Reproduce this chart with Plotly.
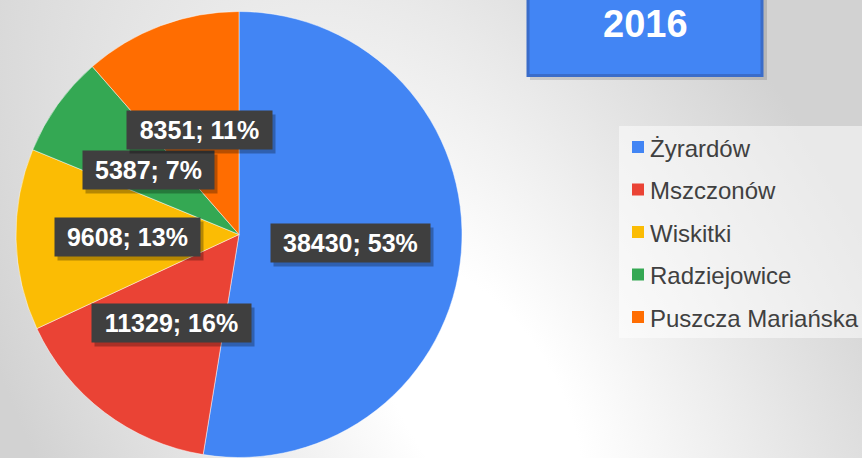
import math
import base64
import plotly.graph_objects as go

# ---- data ----
labels = ["Żyrardów", "Mszczonów", "Wiskitki", "Radziejowice", "Puszcza Mariańska"]
values = [38430, 11329, 9608, 5387, 8351]
percents = [53, 16, 13, 7, 11]
colors = ["#4285F4", "#EA4335", "#FBBC04", "#34A853", "#FF6D01"]
title_text = "2016"

W, H = 862, 458
FONT = "Liberation Sans, Arial, sans-serif"

# pie geometry (pixel space)
pie_left, pie_right = 16, 462
pie_top, pie_bottom = 11, H
dom_x = [pie_left / W, pie_right / W]
dom_y = [1 - pie_bottom / H, 1 - pie_top / H]
R = min(pie_right - pie_left, pie_bottom - pie_top) / 2
cx = (pie_left + pie_right) / 2
cy = (pie_top + pie_bottom) / 2


def px(x):
    return x / W


def py(y):
    return 1 - y / H


# background gradient (svg)
svg = f'''<svg xmlns="http://www.w3.org/2000/svg" width="{W}" height="{H}" viewBox="0 0 {W} {H}" preserveAspectRatio="none">
<defs><radialGradient id="g" gradientUnits="userSpaceOnUse" cx="0" cy="0" r="1"
 gradientTransform="translate(480 400) rotate(-121.5) scale(820 420)">
<stop offset="0" stop-color="#ffffff"/><stop offset="0.18" stop-color="#ffffff"/>
<stop offset="0.7" stop-color="#e2e2e2"/><stop offset="1" stop-color="#d2d2d2"/></radialGradient></defs>
<rect width="{W}" height="{H}" fill="url(#g)"/></svg>'''
bg_src = "data:image/svg+xml;base64," + base64.b64encode(svg.encode()).decode()

fig = go.Figure()
fig.add_trace(go.Pie(
    labels=labels, values=values, sort=False, direction="clockwise", rotation=0,
    marker=dict(colors=colors, line=dict(color="rgba(255,255,255,0.6)", width=0.8)),
    textinfo="none", hoverinfo="label+value+percent", showlegend=False,
    domain=dict(x=dom_x, y=dom_y),
))

shapes = []
annotations = []

# data labels derived from the values
total = sum(values)
cum = 0.0
for v, p in zip(values, percents):
    frac = v / total
    theta = 2 * math.pi * (cum + frac / 2)
    cum += frac
    lx = cx + 0.5 * R * math.sin(theta)
    ly = cy - 0.5 * R * math.cos(theta)
    txt = f"{v}; {p}%"
    em = sum(0.556 if c.isdigit() else 0.333 if c == ";" else 0.278 if c == " " else 0.889 for c in txt)
    bw = em * 25 + 24
    annotations.append(dict(x=px(lx), y=py(ly), xref="paper", yref="paper", text=" ",
                            xanchor="center", yanchor="middle",
                            showarrow=False, width=bw, height=38, bgcolor="rgba(0,0,0,0.28)",
                            xshift=3, yshift=-4, borderpad=0))
    annotations.append(dict(x=px(lx), y=py(ly), xref="paper", yref="paper",
                            xanchor="center", yanchor="middle",
                            text=f"<b>{txt}</b>", showarrow=False, width=bw, height=38,
                            bgcolor="#3f3f3f", borderpad=0,
                            font=dict(family=FONT, size=25, color="#ffffff")))

# title box
shapes.append(dict(type="rect", xref="paper", yref="paper", x0=px(530), x1=px(767), y0=py(80), y1=py(-10),
                   fillcolor="rgba(0,0,0,0.13)", line=dict(width=0), layer="above"))
shapes.append(dict(type="rect", xref="paper", yref="paper", x0=px(528), x1=px(762), y0=py(75.5), y1=py(-10),
                   fillcolor="#4285F4", line=dict(color="#3a6cc9", width=3), layer="above"))
annotations.append(dict(x=px(645), y=py(24), xref="paper", yref="paper", text=f"<b>{title_text}</b>",
                        xanchor="center", yanchor="middle",
                        showarrow=False, font=dict(family=FONT, size=38, color="#ffffff")))

# legend box and entries
shapes.append(dict(type="rect", xref="paper", yref="paper", x0=px(619), x1=px(W + 5), y0=py(338), y1=py(126),
                   fillcolor="rgba(255,255,255,0.5)", line=dict(width=0), layer="above"))
for i, (lab, col) in enumerate(zip(labels, colors)):
    yc = 147 + i * 42.5
    shapes.append(dict(type="rect", xref="paper", yref="paper", x0=px(632), x1=px(644),
                       y0=py(yc + 6), y1=py(yc - 6), fillcolor=col, line=dict(width=0), layer="above"))
    annotations.append(dict(x=px(648), y=py(yc + 1), xref="paper", yref="paper", text=lab,
                            xanchor="left", yanchor="middle", showarrow=False,
                            font=dict(family=FONT, size=24, color="#404040")))

fig.update_layout(
    width=W, height=H, margin=dict(l=0, r=0, t=0, b=0),
    paper_bgcolor="#e4e4e4", plot_bgcolor="rgba(0,0,0,0)",
    images=[dict(source=bg_src, xref="paper", yref="paper", x=0, y=1, sizex=1, sizey=1,
                 sizing="stretch", xanchor="left", yanchor="top", layer="below")],
    shapes=shapes, annotations=annotations, showlegend=False,
)

fig.write_html("out.html", config={"displayModeBar": False},
               post_script="document.body.style.margin='0';document.body.style.overflow='hidden';")
